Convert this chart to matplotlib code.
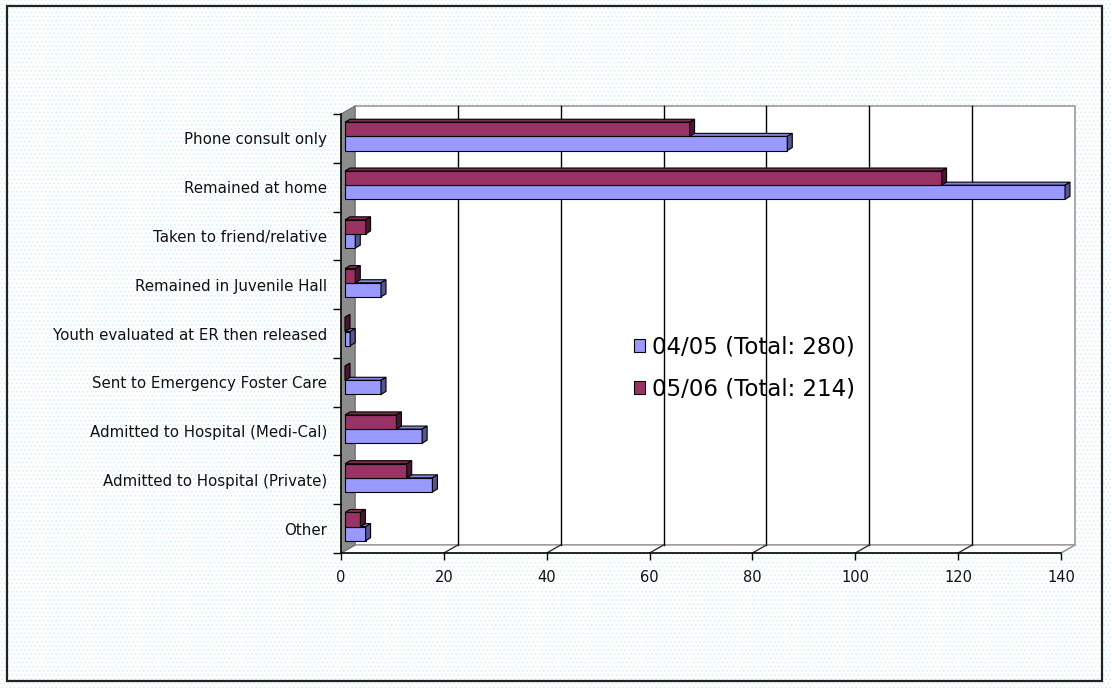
import matplotlib
matplotlib.use('Agg')
import matplotlib.pyplot as plt
import matplotlib.transforms as mtransforms
from matplotlib.patches import Polygon, Rectangle, Patch
from matplotlib.lines import Line2D

categories = ['Phone consult only', 'Remained at home', 'Taken to friend/relative',
              'Remained in Juvenile Hall', 'Youth evaluated at ER then released',
              'Sent to Emergency Foster Care', 'Admitted to Hospital (Medi-Cal)',
              'Admitted to Hospital (Private)', 'Other']
vals_0405 = [86, 140, 2, 7, 1, 7, 15, 17, 4]
vals_0506 = [67, 116, 4, 2, 0, 0, 10, 12, 3]
series_labels = ['04/05 (Total: 280)', '05/06 (Total: 214)']
xticks = [0, 20, 40, 60, 80, 100, 120, 140]

BLUE, BLUE_TOP, BLUE_SIDE = '#9999ff', '#8585e0', '#55558f'
RED, RED_TOP, RED_SIDE = '#993366', '#80294f', '#4a1530'

W, H = 1111, 688
fig = plt.figure(figsize=(W / 100, H / 100), dpi=100)
fig.patch.set_facecolor('white')

# dotted background + frame
plt.rcParams['hatch.color'] = '#d2f2f2'
plt.rcParams['hatch.linewidth'] = 0.6
fig.add_artist(Rectangle((0, 0), 1, 1, transform=fig.transFigure, facecolor='white',
                         hatch='....', edgecolor='#d2f2f2', linewidth=0, zorder=-10))
fig.add_artist(Rectangle((7, H - 681), 1095, 675, transform=mtransforms.IdentityTransform(),
                         fill=False, edgecolor='#222222', linewidth=1.6, zorder=-5))

ax = fig.add_axes([341 / W, (H - 553) / H, 720 / W, 439 / H])
ax.set_xlim(0, 140)
ax.set_ylim(len(categories), 0)
ax.patch.set_visible(False)
for s in ['top', 'right']:
    ax.spines[s].set_visible(False)
for s in ['left', 'bottom']:
    ax.spines[s].set_color('black')
    ax.spines[s].set_linewidth(1.1)
    ax.spines[s].set_zorder(6)

ident = mtransforms.IdentityTransform()
BACK = (14, 8)
BOFF = (4, 2)
BDEP = (5, 3)
n = len(categories)


def disp(x, y, off=(0, 0)):
    X, Y = ax.transData.transform((x, y))
    return (X + off[0], Y + off[1])


def poly(pts, fc, ec, lw=0.8, z=1):
    ax.add_patch(Polygon(pts, closed=True, facecolor=fc, edgecolor=ec, linewidth=lw,
                         transform=ident, clip_on=False, zorder=z))


def seg(p, q, color, lw=1.0, z=1.5):
    ax.add_line(Line2D([p[0], q[0]], [p[1], q[1]], color=color, linewidth=lw,
                       transform=ident, clip_on=False, zorder=z))


# back wall
poly([disp(0, 0, BACK), disp(140, 0, BACK), disp(140, n, BACK), disp(0, n, BACK)],
     'white', '#9a9a9a', lw=1.2, z=0.5)
# floor
poly([disp(0, n), disp(140, n), disp(140, n, BACK), disp(0, n, BACK)],
     'white', '#9a9a9a', lw=1.0, z=0.6)
# grid lines on the back wall + floor diagonals
for x in xticks[1:-1]:
    seg(disp(x, 0, BACK), disp(x, n, BACK), 'black', lw=1.0)
    seg(disp(x, n), disp(x, n, BACK), '#333333', lw=1.0)
seg(disp(140, n), disp(140, n, BACK), '#9a9a9a', lw=1.0)
# left wall
poly([disp(0, 0), disp(0, 0, BACK), disp(0, n, BACK), disp(0, n)],
     '#8c8c8c', '#6e6e6e', lw=0.8, z=0.8)

# bars
h = 0.29
bar_tr = ax.transData + mtransforms.ScaledTranslation(BOFF[0] / 100, BOFF[1] / 100,
                                                      fig.dpi_scale_trans)
y_blue = [i + 0.5 + h / 2 for i in range(n)]
y_red = [i + 0.5 - h / 2 for i in range(n)]

for ys, vals, fc, top, side, z in [(y_blue, vals_0405, BLUE, BLUE_TOP, BLUE_SIDE, 3),
                                   (y_red, vals_0506, RED, RED_TOP, RED_SIDE, 4)]:
    bars = ax.barh(ys, vals, height=h, color=fc, edgecolor='black', linewidth=0.8,
                   transform=bar_tr, zorder=z)
    for b in bars:
        b.set_clip_on(False)
    for yc, v in zip(ys, vals):
        tl = disp(0, yc - h / 2, BOFF)
        tr = disp(v, yc - h / 2, BOFF)
        br = disp(v, yc + h / 2, BOFF)
        poly([tl, tr, (tr[0] + BDEP[0], tr[1] + BDEP[1]), (tl[0] + BDEP[0], tl[1] + BDEP[1])],
             top, 'black', lw=0.8, z=z + 0.5)
        poly([br, tr, (tr[0] + BDEP[0], tr[1] + BDEP[1]), (br[0] + BDEP[0], br[1] + BDEP[1])],
             side, 'black', lw=0.8, z=z + 0.5)

# ticks
ax.set_yticks([i + 0.5 for i in range(n)])
ax.set_yticklabels(categories, fontsize=10.8, color='#111111')
ax.set_yticks(range(n + 1), minor=True)
ax.tick_params(axis='y', which='major', length=0, pad=10)
ax.tick_params(axis='y', which='minor', length=6, width=1, color='black')
ax.set_xticks(xticks)
ax.set_xticklabels([str(t) for t in xticks], fontsize=10.5, color='#111111')
ax.tick_params(axis='x', length=5, width=1, pad=7)

# legend
handles = [Patch(facecolor=BLUE, edgecolor='black', linewidth=0.8),
           Patch(facecolor=RED, edgecolor='black', linewidth=0.8)]
ax.legend(handles, series_labels, loc='center left',
          bbox_to_anchor=(613 / W, (H - 368) / H), bbox_transform=fig.transFigure,
          frameon=False, fontsize=16.5, handlelength=0.5, handleheight=0.5,
          handletextpad=0.3, labelspacing=0.85)

fig.savefig('out.png', dpi=100)
